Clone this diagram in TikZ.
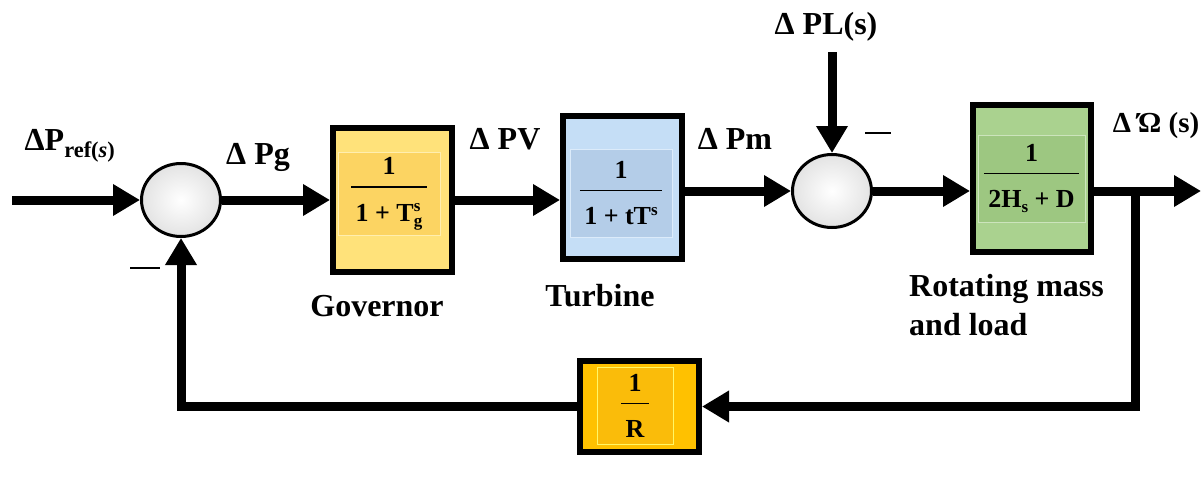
\documentclass[tikz,border=0pt]{standalone}
\usepackage{amsmath}
\usepackage{fontspec}
\setmainfont{Liberation Serif}[BoldFont={Liberation Serif Bold},ItalicFont={Liberation Serif Italic},BoldItalicFont={Liberation Serif Bold Italic}]
\newfontfamily\tnr{Liberation Serif}[BoldFont={Liberation Serif Bold},BoldItalicFont={Liberation Serif Bold Italic}]
\usetikzlibrary{arrows.meta,shapes.geometric}
\definecolor{govout}{RGB}{255,226,122}
\definecolor{govin}{RGB}{252,212,98}
\definecolor{turbout}{RGB}{197,222,246}
\definecolor{turbin}{RGB}{180,205,232}
\definecolor{rotout}{RGB}{170,210,143}
\definecolor{rotin}{RGB}{157,199,129}
\definecolor{rout}{RGB}{255,193,0}
\definecolor{rin}{RGB}{250,188,10}
\newcommand{\tf}[2]{$\genfrac{}{}{1.8pt}{0}{\text{#1}\rule[-6pt]{0pt}{6pt}}{\rule{0pt}{28pt}\text{\,#2\,}}$}
\newcommand{\smallsc}{\fontsize{17}{17}\selectfont}
\begin{document}
\begin{tikzpicture}[x=1pt,y=-1pt,
  wire/.style={line width=9pt},
  arr/.style={wire,-{Triangle[length=27pt,width=30pt]}},
  outerbox/.style={draw=black,line width=6pt,inner sep=0pt},
  innerbox/.style={draw=#1!60!white,line width=1pt,inner sep=0pt,font=\tnr\fontsize{26}{30}\selectfont\bfseries},
  sumnode/.style={ellipse,draw=black,line width=3pt,inner color=white,outer color=gray!22,minimum width=79pt,minimum height=73pt,inner sep=0pt},
  lbl/.style={font=\tnr\fontsize{32}{38}\selectfont\bfseries,inner sep=0pt},
  mlbl/.style={font=\tnr\fontsize{32}{39}\selectfont\bfseries,inner sep=0pt,align=left}]
\useasboundingbox (0,0) rectangle (1204,477);
\fill[white] (0,0) rectangle (1204,477);

% blocks
\node[outerbox,fill=govout,minimum width=119pt,minimum height=144pt] (gov) at (392.5,200) {};
\node[innerbox=govout,fill=govin,minimum width=102pt,minimum height=83pt] (govi) at (389,193.5) {\tf{1}{1 + T\rlap{\raisebox{10pt}{\smallsc s}}\raisebox{-5pt}{\smallsc g}}};
\node[outerbox,fill=turbout,minimum width=119pt,minimum height=143pt] (turb) at (622.5,187.5) {};
\node[innerbox=turbout,fill=turbin,minimum width=102pt,minimum height=88pt] (turbi) at (621,193) {\tf{1}{1 + tT\raisebox{9pt}{\smallsc s}}};
\node[outerbox,fill=rotout,minimum width=118pt,minimum height=147pt] (rot) at (1032,178.5) {};
\node[innerbox=rotout,fill=rotin,minimum width=107pt,minimum height=87pt] (roti) at (1031.5,178.5) {\tf{1}{2H\raisebox{-5pt}{\smallsc s} + D}};
\node[outerbox,fill=rout,minimum width=119pt,minimum height=91pt] (R) at (639.5,406.5) {};
\node[innerbox=yellow,fill=rin,minimum width=76pt,minimum height=77pt] (Ri) at (635,406) {\tf{1}{R}};

% summing junctions
\node[sumnode] (s1) at (181,200) {};
\node[sumnode] (s2) at (832,191) {};

% coordinates
\coordinate (in) at (12,200);
\coordinate (pl) at (832,52);
\coordinate (br) at (1135,191);
\coordinate (out) at (1201,191);

% connectors
\draw[arr] (in) -- (s1.west);
\draw[arr] (s1.east) -- (gov.west |- s1.east);
\draw[arr] (gov.east) -- (turb.west |- gov.east);
\draw[arr] (turb.east |- s2.west) -- (s2.west);
\draw[arr] (s2.east) -- (rot.west |- s2.east);
\draw[arr] (rot.east |- br) -- (out);
\draw[arr] (br) |- (R.east);
\draw[arr] (R.west) -| (s1.south);
\draw[arr] (pl) -- (s2.north);

% labels
\node[lbl] (lref) at (70,146) {ΔP$_{\text{\bfseries ref(\textit{s})}}$};
\node[lbl] (lpg) at (258,157) {Δ Pg};
\node[lbl] (lpv) at (505,139) {Δ PV};
\node[lbl] (lpm) at (735,139) {Δ Pm};
\node[lbl] (lpl) at (826,27) {Δ PL(s)};
\node[lbl,font=\tnr\fontsize{29}{35}\selectfont\bfseries] (lom) at (1156,126) {Δ Ώ (s)};
\node[lbl] (lgov) at (377,306) {Governor};
\node[lbl] (lturb) at (600,296) {Turbine};
\node[mlbl,anchor=north west] (lrot) at (909,274) {Rotating mass\\and load};
\draw[line width=2pt] (865,133) -- (891,133);
\draw[line width=2pt] (130,268) -- (160,268);
\end{tikzpicture}
\end{document}
